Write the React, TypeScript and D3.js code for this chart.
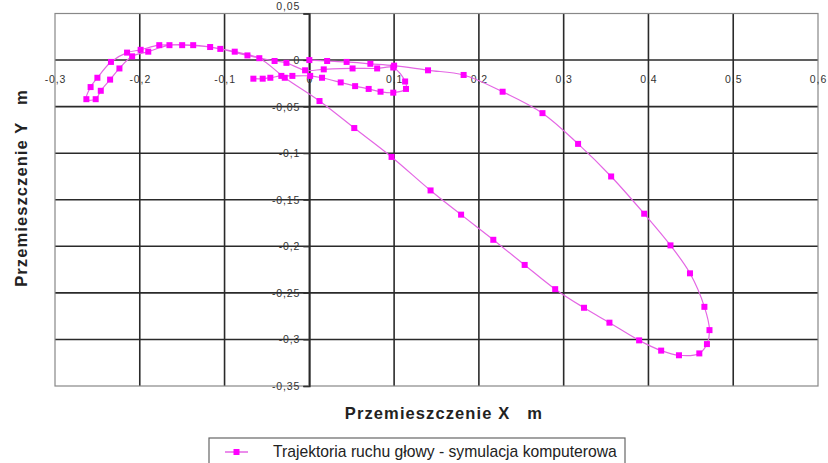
import React, { useEffect, useRef } from 'react'
import * as d3 from 'd3'

// trajectory of the head (m)
const xValues = [
  0, 0.021, 0.044, 0.072, 0.1, 0.14, 0.182, 0.228, 0.275, 0.317, 0.356, 0.395, 0.426, 0.449, 0.466, 0.472,
  0.469, 0.46, 0.436, 0.415, 0.389, 0.354, 0.324, 0.29, 0.254, 0.217, 0.179, 0.143, 0.097, 0.053, 0.012,
  -0.029, -0.059, -0.088, -0.117, -0.15, -0.177, -0.199, -0.215, -0.234, -0.25, -0.258, -0.263,
  -0.252, -0.246, -0.235, -0.224, -0.209, -0.19, -0.165, -0.137, -0.105, -0.073, -0.041, -0.027,
  -0.005, 0.017, 0.051, 0.08, 0.099, 0.113, 0.114, 0.099, 0.084, 0.07, 0.054, 0.037, 0.015, 0.001,
  -0.02, -0.033, -0.046, -0.055, -0.066,
]
const yValues = [
  0, -0.001, -0.002, -0.004, -0.006, -0.011, -0.016, -0.034, -0.057, -0.09, -0.125, -0.165, -0.199, -0.229, -0.265, -0.29,
  -0.305, -0.315, -0.317, -0.312, -0.301, -0.282, -0.266, -0.246, -0.22, -0.193, -0.166, -0.14, -0.104, -0.073, -0.044,
  -0.019, 0.002, 0.009, 0.014, 0.016, 0.016, 0.011, 0.008, -0.002, -0.019, -0.029, -0.042,
  -0.042, -0.033, -0.021, -0.009, 0.004, 0.009, 0.016, 0.016, 0.012, 0.005, -0.001, -0.003,
  -0.011, -0.01, -0.009, -0.009, -0.008, -0.023, -0.031, -0.035, -0.034, -0.031, -0.028, -0.024, -0.019, -0.017,
  -0.017, -0.017, -0.019, -0.02, -0.02,
]

const xTicks = [-0.3, -0.2, -0.1, 0, 0.1, 0.2, 0.3, 0.4, 0.5, 0.6]
const yTicks = [0.05, 0, -0.05, -0.1, -0.15, -0.2, -0.25, -0.3, -0.35]

const seriesName = 'Trajektoria ruchu głowy - symulacja komputerowa'
const xTitle = 'Przemieszczenie X   m'
const yTitle = 'Przemieszczenie Y   m'

const fmt = (d: number) => String(+d.toFixed(2)).replace('.', ',')
const font = 'Liberation Sans, Arial, sans-serif'

export default function App() {
  const ref = useRef<SVGSVGElement>(null)

  useEffect(() => {
    const w = 828
    const h = 463
    const svg = d3.select(ref.current).attr('width', w).attr('height', h)
    svg.selectAll('*').remove()

    const left = 55, right = 818, top = 13.5, bottom = 386
    const x = d3.scaleLinear().domain([-0.3, 0.6]).range([left, right])
    const y = d3.scaleLinear().domain([-0.35, 0.05]).range([bottom, top])

    svg.append('rect').attr('width', w).attr('height', h).attr('fill', '#fff')

    const grid = svg.append('g').attr('stroke', '#2a2a2a').attr('stroke-width', 1.6)
    grid.selectAll('.vx').data(xTicks.slice(1, -1)).join('line')
      .attr('x1', d => x(d)).attr('x2', d => x(d)).attr('y1', top).attr('y2', bottom)
    grid.selectAll('.hy').data(yTicks.slice(1, -1)).join('line')
      .attr('x1', left).attr('x2', right).attr('y1', d => y(d)).attr('y2', d => y(d))

    svg.append('rect').attr('x', left).attr('y', top).attr('width', right - left).attr('height', bottom - top)
      .attr('fill', 'none').attr('stroke', '#888').attr('stroke-width', 1.2)

    // y axis at x = 0 with ticks on the left
    const yAxis = svg.append('g').attr('transform', `translate(${x(0)},0)`)
    yAxis.call(d3.axisLeft(y).tickValues(yTicks).tickFormat(d => fmt(+d)).tickSize(6).tickPadding(3))
    yAxis.select('.domain').attr('stroke', '#2a2a2a').attr('stroke-width', 1.6)
    yAxis.selectAll('.tick line').attr('stroke', '#333').attr('stroke-width', 1.2)
    yAxis.selectAll('text').attr('font-family', font).attr('font-size', 10.5)
      .attr('letter-spacing', 0.9).attr('fill', '#333')
    yAxis.selectAll<SVGTextElement, number>('text').filter(d => d === 0.05).attr('dy', '-0.35em')

    // x axis at y = 0, labels below
    const xAxis = svg.append('g').attr('transform', `translate(0,${y(0)})`)
    xAxis.call(d3.axisBottom(x).tickValues(xTicks).tickFormat(d => fmt(+d)).tickSize(0).tickPadding(15))
    xAxis.select('.domain').remove()
    xAxis.selectAll('text').attr('font-family', font).attr('font-size', 10.5)
      .attr('letter-spacing', 0.9).attr('fill', '#333')

    const pts = xValues.map((v, i) => [v, yValues[i]] as [number, number])
    const line = d3.line<[number, number]>().x(d => x(d[0])).y(d => y(d[1])).curve(d3.curveCatmullRom)
    svg.append('path').datum(pts).attr('d', line).attr('fill', 'none')
      .attr('stroke', '#e466e4').attr('stroke-width', 1.2)
    svg.append('g').selectAll('rect').data(pts).join('rect')
      .attr('x', d => x(d[0]) - 3).attr('y', d => y(d[1]) - 3).attr('width', 6).attr('height', 6)
      .attr('fill', '#ff00ff')

    svg.append('text').text(xTitle).attr('x', 444).attr('y', 419).attr('text-anchor', 'middle')
      .attr('font-family', font).attr('font-weight', 'bold').attr('font-size', 16.5)
      .attr('letter-spacing', 1.1).attr('fill', '#222').style('white-space', 'pre')
    svg.append('text').text(yTitle).attr('transform', `translate(27,188) rotate(-90)`).attr('text-anchor', 'middle')
      .attr('font-family', font).attr('font-weight', 'bold').attr('font-size', 16.5)
      .attr('letter-spacing', 1.1).attr('fill', '#222').style('white-space', 'pre')

    // legend
    const lg = svg.append('g')
    lg.append('rect').attr('x', 209).attr('y', 438).attr('width', 416).attr('height', 40)
      .attr('fill', '#fff').attr('stroke', '#666').attr('stroke-width', 1.2)
    lg.append('line').attr('x1', 225).attr('x2', 248).attr('y1', 452).attr('y2', 452)
      .attr('stroke', '#e466e4').attr('stroke-width', 1.5)
    lg.append('rect').attr('x', 233.5).attr('y', 449).attr('width', 6).attr('height', 6).attr('fill', '#ff00ff')
    lg.append('text').text(seriesName).attr('x', 273).attr('y', 457)
      .attr('font-family', font).attr('font-size', 15.7).attr('fill', '#222')
  }, [])

  return (
    <div style={{ position: 'absolute', left: 0, top: 0 }}>
      <svg ref={ref}></svg>
    </div>
  )
}
